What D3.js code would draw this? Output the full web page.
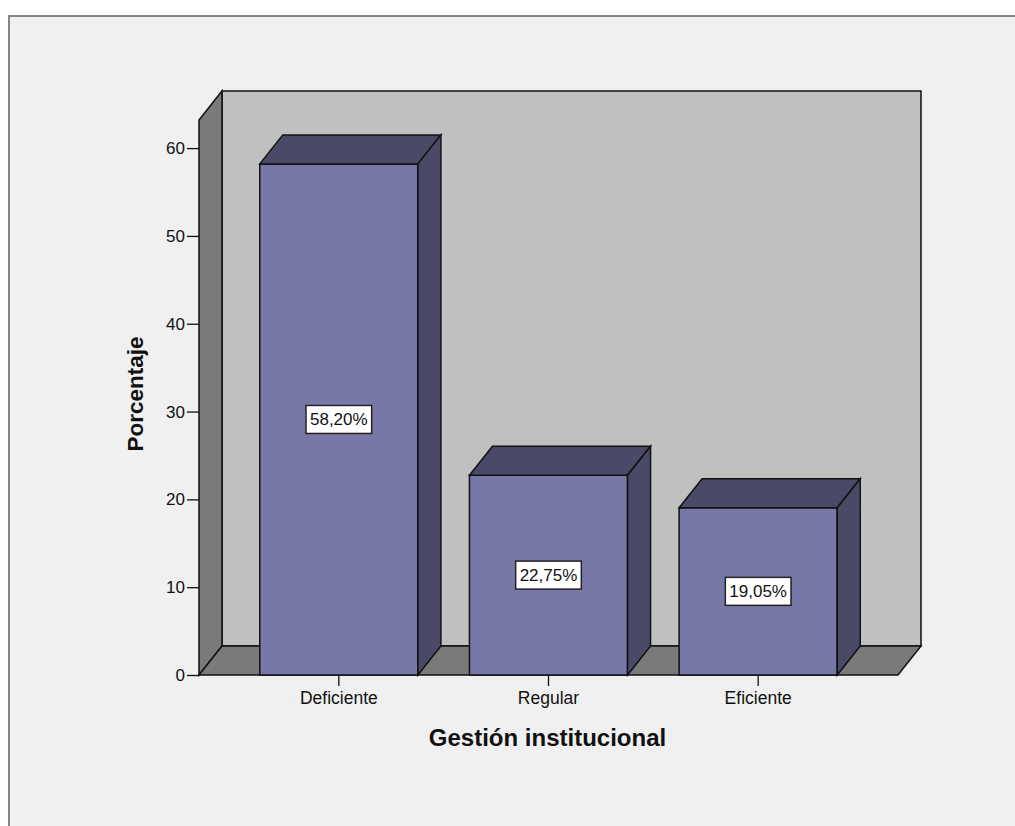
<!DOCTYPE html>
<html>
<head>
<meta charset="utf-8">
<script src="https://cdn.jsdelivr.net/npm/d3@7"></script>
<style>
  html, body { margin: 0; padding: 0; background: #ffffff; }
  svg { display: block; }
  text { font-family: "Liberation Sans", Arial, sans-serif; fill: #111; }
</style>
</head>
<body>
<svg id="chart" width="1015" height="826"></svg>
<script>
// Gestión institucional — percentage of responses per category
const categories = ["Deficiente", "Regular", "Eficiente"];
const percentages = [58.20, 22.75, 19.05];
const valueLabels = ["58,20%", "22,75%", "19,05%"];
const yTicks = [0, 10, 20, 30, 40, 50, 60];
const yMax = 63.2;

const svg = d3.select("#chart");

// Outer chart panel
svg.append("rect")
  .attr("x", 9).attr("y", 16)
  .attr("width", 1015).attr("height", 826)
  .attr("fill", "#f0f0f0")
  .attr("stroke", "#858585")
  .attr("stroke-width", 2);

// Front plane of the 3D box
const x0 = 199, x1 = 898;
const depthX = 23, depthY = -29;

const y = d3.scaleLinear().domain([0, yMax]).range([675, 120]);
const x = d3.scaleBand()
  .domain(categories)
  .range([234, 863])
  .paddingInner(0.246)
  .paddingOuter(0.123);

const poly = pts => pts.map(p => p.join(",")).join(" ");
const edge = { stroke: "#111", "stroke-width": 1.5, "stroke-linejoin": "miter" };
function addPoly(pts, fill) {
  const p = svg.append("polygon").attr("points", poly(pts)).attr("fill", fill);
  Object.entries(edge).forEach(([k, v]) => p.attr(k, v));
  return p;
}

const yTop = y(yMax), yBase = y(0);

// Back wall
addPoly([[x0 + depthX, yTop + depthY], [x1 + depthX, yTop + depthY],
         [x1 + depthX, yBase + depthY], [x0 + depthX, yBase + depthY]], "#c0c0c0");
// Left wall
addPoly([[x0, yTop], [x0 + depthX, yTop + depthY],
         [x0 + depthX, yBase + depthY], [x0, yBase]], "#7a7a7a");
// Floor
addPoly([[x0, yBase], [x0 + depthX, yBase + depthY],
         [x1 + depthX, yBase + depthY], [x1, yBase]], "#7a7a7a");

// Y axis (ticks on the front edge of the left wall)
const yAxis = svg.append("g")
  .attr("transform", `translate(${x0},0)`)
  .call(d3.axisLeft(y).tickValues(yTicks).tickSize(12).tickPadding(2).tickFormat(d3.format("d")));
yAxis.select(".domain").remove();
yAxis.selectAll(".tick line").attr("stroke", "#111").attr("stroke-width", 1.3);
yAxis.selectAll(".tick text")
  .attr("font-size", 17)
  .attr("font-family", "Liberation Sans, Arial, sans-serif")
  .attr("fill", "#111");

// X axis
const xAxis = svg.append("g")
  .attr("transform", `translate(0,${yBase})`)
  .call(d3.axisBottom(x).tickSize(11).tickPadding(6));
xAxis.select(".domain").remove();
xAxis.selectAll(".tick line").attr("stroke", "#111").attr("stroke-width", 1.3);
xAxis.selectAll(".tick text")
  .attr("font-size", 17.5)
  .attr("font-family", "Liberation Sans, Arial, sans-serif")
  .attr("fill", "#111");

// 3D bars
const bars = svg.append("g");
categories.forEach((c, i) => {
  const bx = x(c), bw = x.bandwidth();
  const top = y(percentages[i]);
  const g = bars.append("g");
  const add = (pts, fill) => {
    g.append("polygon").attr("points", poly(pts)).attr("fill", fill)
      .attr("stroke", "#111").attr("stroke-width", 1.5).attr("stroke-linejoin", "miter");
  };
  // front face
  add([[bx, top], [bx + bw, top], [bx + bw, yBase], [bx, yBase]], "#7878a8");
  // top face
  add([[bx, top], [bx + depthX, top + depthY], [bx + bw + depthX, top + depthY], [bx + bw, top]], "#4a4a68");
  // right side
  add([[bx + bw, top], [bx + bw + depthX, top + depthY],
       [bx + bw + depthX, yBase + depthY], [bx + bw, yBase]], "#4a4a68");
});

// Value labels in the middle of each bar
const labels = svg.append("g");
categories.forEach((c, i) => {
  const cx = x(c) + x.bandwidth() / 2;
  const cy = y(percentages[i] / 2);
  const g = labels.append("g");
  const t = g.append("text")
    .attr("x", cx).attr("y", cy)
    .attr("text-anchor", "middle")
    .attr("dominant-baseline", "central")
    .attr("font-size", 17)
    .text(valueLabels[i]);
  const bb = t.node().getBBox();
  g.insert("rect", "text")
    .attr("x", bb.x - 4).attr("y", cy - 14)
    .attr("width", bb.width + 8).attr("height", 28)
    .attr("fill", "#ffffff")
    .attr("stroke", "#222").attr("stroke-width", 1.5);
});

// Axis titles
svg.append("text")
  .attr("x", x0 + (x1 - x0) / 2 - 1).attr("y", 746)
  .attr("text-anchor", "middle")
  .attr("font-size", 24).attr("font-weight", "bold")
  .text("Gestión institucional");

svg.append("text")
  .attr("transform", "translate(143,394) rotate(-90)")
  .attr("text-anchor", "middle")
  .attr("font-size", 22.5).attr("font-weight", "bold")
  .text("Porcentaje");
</script>
</body>
</html>
